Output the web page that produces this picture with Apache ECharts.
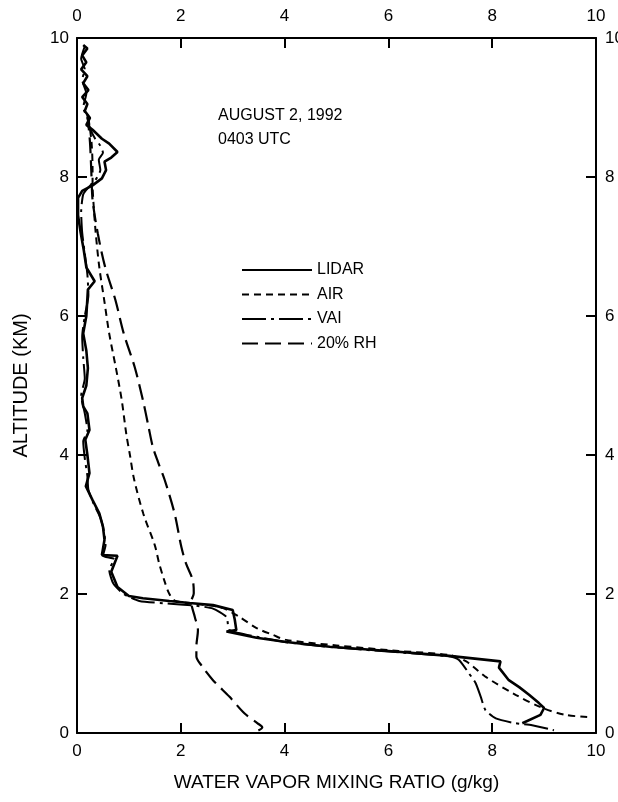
<!DOCTYPE html>
<html>
<head>
<meta charset="utf-8">
<script src="https://cdn.jsdelivr.net/npm/echarts@6/dist/echarts.min.js"></script>
<style>
  html, body { margin: 0; padding: 0; background: #fff; }
  #chart { width: 618px; height: 802px; }
</style>
</head>
<body>
<div id="chart"></div>
<script>
// Water vapor mixing ratio profiles, [mixing ratio g/kg, altitude km]
const lidarProfile = [
  [0.12,9.9],[0.2,9.85],[0.1,9.75],[0.18,9.65],[0.08,9.55],[0.2,9.45],[0.12,9.35],[0.22,9.25],
  [0.1,9.15],[0.2,9.05],[0.15,8.95],[0.25,8.85],[0.18,8.75],[0.3,8.68],[0.48,8.55],[0.62,8.48],
  [0.78,8.36],[0.66,8.28],[0.53,8.22],[0.56,8.1],[0.48,7.98],[0.3,7.88],[0.1,7.8],[0.02,7.7],
  [0.02,7.45],[0.07,7.2],[0.13,6.95],[0.18,6.7],[0.34,6.5],[0.21,6.38],[0.18,6.0],[0.12,5.75],
  [0.18,5.5],[0.21,5.25],[0.18,5.0],[0.1,4.82],[0.12,4.7],[0.2,4.6],[0.24,4.36],[0.16,4.22],
  [0.2,4.0],[0.24,3.74],[0.17,3.55],[0.3,3.35],[0.43,3.16],[0.5,2.97],[0.53,2.78],[0.48,2.56],
  [0.78,2.55],[0.66,2.32],[0.78,2.1],[1.0,1.97],[1.27,1.94],[1.78,1.9],[2.17,1.87],[2.62,1.84],
  [3.0,1.77],[3.04,1.63],[3.07,1.48],[2.88,1.46],[3.46,1.37],[4.03,1.31],[4.87,1.24],[6.0,1.18],
  [7.17,1.11],[8.16,1.03],[8.13,0.94],[8.32,0.76],[8.52,0.66],[8.71,0.55],[8.9,0.43],[9.0,0.36],
  [8.93,0.26],[8.58,0.14]
];
const airProfile = [
  [0.22,8.85],[0.28,8.5],[0.3,8.1],[0.3,7.9],[0.32,7.6],[0.36,7.2],[0.43,6.7],[0.53,6.2],
  [0.62,5.75],[0.75,5.25],[0.86,4.8],[0.95,4.3],[1.02,4.0],[1.1,3.65],[1.28,3.15],[1.5,2.7],
  [1.58,2.45],[1.68,2.2],[1.78,2.0],[1.9,1.9],[2.4,1.85],[2.8,1.8],[3.13,1.67],[3.46,1.51],
  [3.78,1.41],[4.03,1.34],[5.0,1.26],[6.2,1.18],[7.2,1.12],[7.5,1.03],[7.87,0.81],[8.45,0.55],
  [8.97,0.36],[9.42,0.26],[9.83,0.23]
];
const vaiProfile = [
  [0.15,9.88],[0.08,9.7],[0.15,9.55],[0.1,9.4],[0.18,9.2],[0.12,9.0],[0.2,8.85],[0.25,8.7],
  [0.35,8.55],[0.45,8.45],[0.5,8.35],[0.42,8.25],[0.45,8.1],[0.35,7.95],[0.22,7.85],[0.12,7.75],
  [0.08,7.5],[0.1,7.2],[0.15,6.9],[0.2,6.6],[0.22,6.3],[0.15,6.0],[0.1,5.7],[0.12,5.4],
  [0.15,5.1],[0.08,4.85],[0.15,4.6],[0.2,4.35],[0.12,4.2],[0.15,3.95],[0.2,3.7],[0.22,3.5],
  [0.32,3.3],[0.45,3.1],[0.52,2.9],[0.55,2.7],[0.5,2.55],[0.72,2.5],[0.62,2.35],[0.7,2.15],
  [0.9,2.0],[1.2,1.9],[1.8,1.86],[2.3,1.83],[2.62,1.79],[2.88,1.67],[2.94,1.48],[3.5,1.38],
  [4.1,1.3],[5.0,1.23],[6.2,1.16],[7.2,1.1],[7.36,1.05],[7.55,0.86],[7.68,0.72],[7.78,0.52],
  [7.87,0.33],[8.07,0.21],[8.45,0.14],[8.77,0.11],[9.19,0.04]
];
const rhProfile = [
  [0.2,8.9],[0.25,8.5],[0.28,8.0],[0.3,7.67],[0.4,7.19],[0.54,6.71],[0.74,6.23],[0.9,5.75],
  [1.11,5.27],[1.27,4.79],[1.38,4.4],[1.46,4.12],[1.56,3.9],[1.69,3.64],[1.88,3.16],[2.01,2.68],
  [2.1,2.44],[2.23,2.2],[2.25,2.01],[2.2,1.89],[2.27,1.67],[2.33,1.48],[2.3,1.24],[2.3,1.1],
  [2.4,0.97],[2.62,0.76],[2.94,0.52],[3.23,0.28],[3.48,0.14],[3.57,0.08],[3.45,0.02]
];

const seriesNames = ['LIDAR', 'AIR', 'VAI', '20% RH'];
const xTicks = { min: 0, max: 10, step: 2 };
const yTicks = { min: 0, max: 10, step: 2 };

const FONT = '"Liberation Sans", Arial, sans-serif';
const INK = '#000';

function valueAxis(extra, ticks, labelMargin) {
  return Object.assign({
    type: 'value',
    min: ticks.min,
    max: ticks.max,
    interval: ticks.step,
    axisLine: { show: true, onZero: false, lineStyle: { color: INK, width: 2 } },
    axisTick: { show: true, inside: true, length: 10, lineStyle: { color: INK, width: 2 } },
    splitLine: { show: false },
    axisLabel: { color: INK, fontSize: 17, fontFamily: FONT, margin: labelMargin },
    nameTextStyle: { color: INK, fontSize: 19, fontFamily: FONT }
  }, extra);
}

function profileSeries(name, data, width, dash, smooth) {
  return {
    name: name,
    type: 'line',
    data: data,
    symbol: 'none',
    smooth: smooth,
    animation: false,
    xAxisIndex: 0,
    yAxisIndex: 0,
    lineStyle: { color: INK, width: width, type: dash, cap: 'butt' },
    itemStyle: { color: INK }
  };
}

const chart = echarts.init(document.getElementById('chart'), null, { renderer: 'canvas' });
chart.setOption({
  backgroundColor: '#fff',
  animation: false,
  grid: { left: 77, right: 22, top: 38, bottom: 69, containLabel: false, outerBoundsMode: 'none' },
  xAxis: [
    valueAxis({ position: 'bottom', name: 'WATER VAPOR MIXING RATIO (g/kg)', nameLocation: 'middle', nameGap: 40 }, xTicks, 10),
    valueAxis({ position: 'top' }, xTicks, 13)
  ],
  yAxis: [
    valueAxis({ position: 'left', name: 'ALTITUDE (KM)', nameLocation: 'middle', nameGap: 46, nameRotate: 90,
      nameTextStyle: { color: INK, fontSize: 20, fontFamily: FONT } }, yTicks, 8),
    valueAxis({ position: 'right' }, yTicks, 9)
  ],
  legend: {
    data: seriesNames,
    orient: 'vertical',
    left: 236,
    top: 257,
    itemWidth: 70,
    itemHeight: 14,
    itemGap: 8.5,
    itemStyle: { opacity: 0 },
    lineStyle: { opacity: 1 },
    textStyle: { color: INK, fontSize: 16, fontFamily: FONT, padding: 0 }
  },
  graphic: [
    { type: 'text', left: 218, top: 108, style: { text: 'AUGUST 2, 1992', fill: INK, font: '16px ' + FONT } },
    { type: 'text', left: 218, top: 132, style: { text: '0403 UTC', fill: INK, font: '16px ' + FONT } }
  ],
  series: [
    profileSeries('LIDAR', lidarProfile, 2.6, 'solid', false),
    profileSeries('AIR', airProfile, 2, [7, 5], 0.3),
    profileSeries('VAI', vaiProfile, 2, [24, 5, 3, 5], 0.2),
    profileSeries('20% RH', rhProfile, 2.2, [16, 7], 0.3)
  ]
});
</script>
</body>
</html>
